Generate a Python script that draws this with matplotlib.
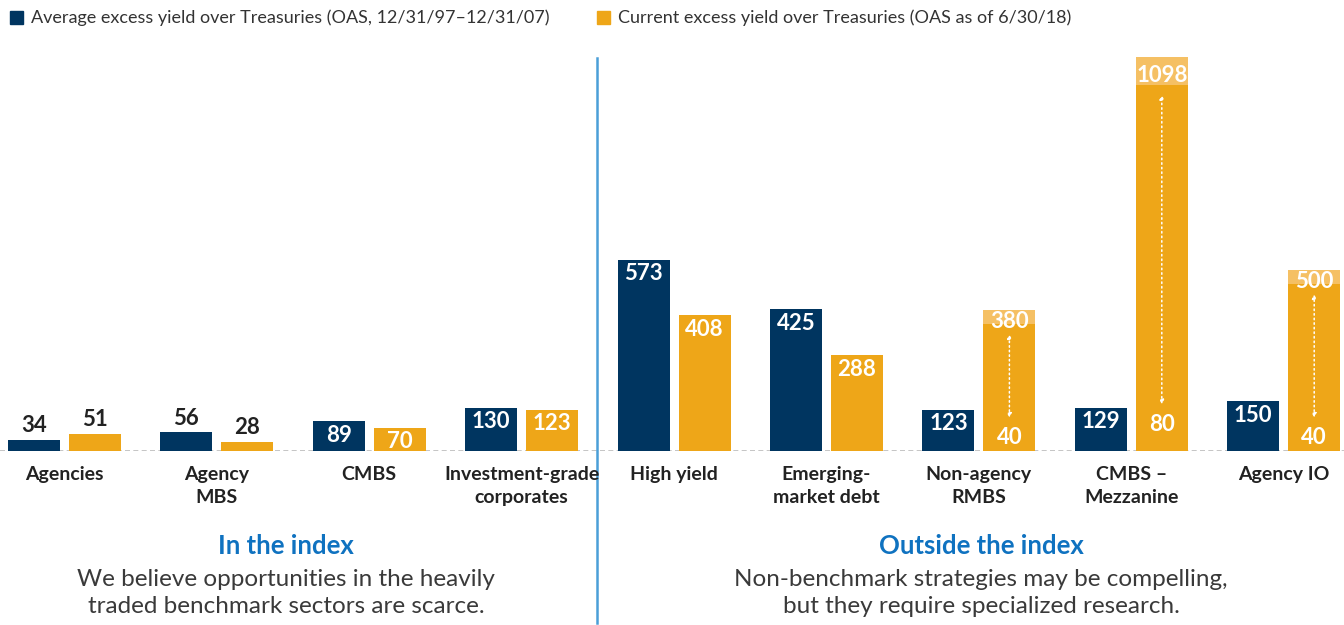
import matplotlib
matplotlib.use("Agg")
import matplotlib.pyplot as plt
import numpy as np

plt.rcParams['font.family'] = ['Lato', 'DejaVu Sans']

# données
categories = ["Agencies", "Agency\nMBS", "CMBS", "Investment-grade\ncorporates",
              "High yield", "Emerging-\nmarket debt", "Non-agency\nRMBS",
              "CMBS –\nMezzanine", "Agency IO"]
avg_oas = [34, 56, 89, 130, 573, 425, 123, 129, 150]
cur_oas = [51, 28, 70, 123, 408, 288, 380, 1098, 500]
# bas de fourchette pour les secteurs hors indice (None = pas de fourchette)
cur_low = [None, None, None, None, None, None, 40, 80, 40]

legend_labels = ["Average excess yield over Treasuries (OAS, 12/31/97\u201312/31/07)",
                 "Current excess yield over Treasuries (OAS as of 6/30/18)"]
left_title = "In the index"
left_text = "We believe opportunities in the heavily\ntraded benchmark sectors are scarce."
right_title = "Outside the index"
right_text = "Non-benchmark strategies may be compelling,\nbut they require specialized research."

NAVY = "#003560"
ORANGE = "#eea618"
LIGHT = "#f5c064"
BLUE = "#0f72c0"
DARK = "#222222"

W, H = 1344, 625
fig = plt.figure(figsize=(W / 100, H / 100), dpi=100)

# axes : baseline à y=451 px, 1 unité = 1/3 px
base_px = 451
top_px = 51
x0 = -64.5 / 152.4
x1 = (W - 64.5) / 152.4
ax = fig.add_axes([0, (H - base_px) / H, 1, (base_px - top_px) / H])
ax.set_xlim(x0, x1)
ax.set_ylim(0, (base_px - top_px) * 3)
ax.axis("off")

x = np.arange(len(categories))
off = 30.5 / 152.4
bw = 52 / 152.4

ax.bar(x - off, avg_oas, bw, color=NAVY, zorder=3)
ax.bar(x + off, cur_oas, bw, color=ORANGE, zorder=3)

# ligne de base pointillée
ax.axhline(0, color="#bbbbbb", lw=1.2, ls=(0, (3, 2)), zorder=1)

FS = 16

def value_label(xc, v):
    if v < 60:
        ax.text(xc, v + 42, str(v), ha="center", va="center", fontsize=FS,
                fontweight="bold", color=DARK, zorder=4)
    else:
        ax.text(xc, v - 42, str(v), ha="center", va="center", fontsize=FS,
                fontweight="bold", color="white", zorder=4)

for i in range(len(categories)):
    value_label(x[i] - off, avg_oas[i])
    if cur_low[i] is None:
        value_label(x[i] + off, cur_oas[i])
    else:
        v = cur_oas[i]
        band = 84 if v > 1000 else 42
        ax.bar(x[i] + off, band, bw, bottom=v, color=LIGHT, zorder=3)
        ax.text(x[i] + off, v + band / 2 - 12, str(v), ha="center", va="center",
                fontsize=FS, fontweight="bold", color="white", zorder=4)
        lo = cur_low[i]
        ax.text(x[i] + off, lo, str(lo), ha="center", va="center",
                fontsize=FS, fontweight="bold", color="white", zorder=4)
        ax.annotate("", xy=(x[i] + off, v - 30), xytext=(x[i] + off, lo + 60),
                    arrowprops=dict(arrowstyle="<|-|>", color="white", lw=1.1,
                                    ls=(0, (1, 2)), mutation_scale=6,
                                    shrinkA=0, shrinkB=0), zorder=5)

# étiquettes des catégories
for i, c in enumerate(categories):
    fig.text((64.5 + 152.4 * i) / W, 1 - 466 / H, c, ha="center", va="top",
             fontsize=14, fontweight="bold", color=DARK, linespacing=1.42)

# séparateur
fig.add_artist(plt.Line2D([597 / W, 597 / W], [1 - 58 / H, 1 - 623 / H],
                          color="#4a9fd8", lw=1.8))

# légende
for sx, col, lab in [(10, NAVY, legend_labels[0]), (597, ORANGE, legend_labels[1])]:
    fig.add_artist(plt.Rectangle((sx / W, 1 - 24 / H), 13 / W, 13 / H,
                                 color=col, transform=fig.transFigure))
    fig.text((sx + 21) / W, 1 - 18 / H, lab, ha="left", va="center",
             fontsize=13, color="#333333")

# textes du bas
fig.text(286 / W, 1 - 546 / H, left_title, ha="center", va="center",
         fontsize=18.5, fontweight="bold", color=BLUE)
fig.text(286 / W, 1 - 593 / H, left_text, ha="center", va="center",
         fontsize=17.5, color="#3a3a3a", linespacing=1.35)
fig.text(981 / W, 1 - 546 / H, right_title, ha="center", va="center",
         fontsize=18.5, fontweight="bold", color=BLUE)
fig.text(981 / W, 1 - 593 / H, right_text, ha="center", va="center",
         fontsize=17.5, color="#3a3a3a", linespacing=1.35)

fig.savefig("out.png", dpi=100)
